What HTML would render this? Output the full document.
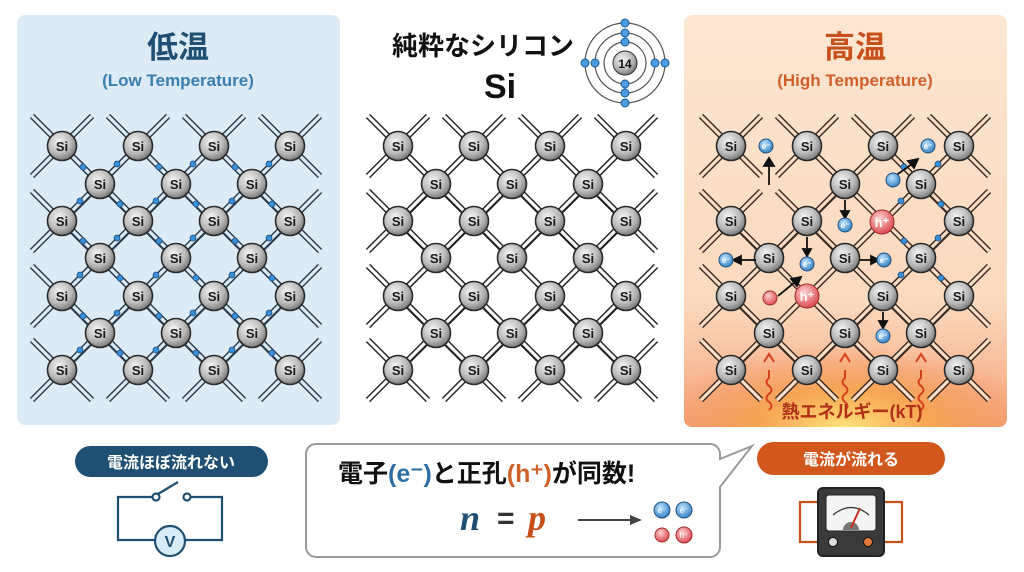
<!DOCTYPE html>
<html><head><meta charset="utf-8"><style>
html,body{margin:0;padding:0;background:#fff;}
svg{display:block;font-family:"Liberation Sans","Noto Sans CJK JP",sans-serif;}
</style></head><body>
<svg width="1024" height="572" viewBox="0 0 1024 572" xmlns="http://www.w3.org/2000/svg">
<defs>
<radialGradient id="ag" cx="40%" cy="35%" r="70%"><stop offset="0" stop-color="#f4f4f4"/><stop offset="0.6" stop-color="#b8b8b8"/><stop offset="1" stop-color="#6e6e6e"/></radialGradient>
<linearGradient id="rp" x1="0" y1="0" x2="0" y2="1"><stop offset="0" stop-color="#fde6d2"/><stop offset="0.7" stop-color="#fbd9bd"/><stop offset="1" stop-color="#f5a27a"/></linearGradient>
<radialGradient id="heat" cx="50%" cy="100%" r="60%"><stop offset="0" stop-color="#ffe27a"/><stop offset="0.45" stop-color="#f7a44e" stop-opacity="0.9"/><stop offset="1" stop-color="#f28a50" stop-opacity="0"/></radialGradient>
<radialGradient id="eg" cx="40%" cy="35%" r="70%"><stop offset="0" stop-color="#bfe3ff"/><stop offset="1" stop-color="#2f7fc0"/></radialGradient>
<radialGradient id="hg" cx="40%" cy="35%" r="70%"><stop offset="0" stop-color="#ffd0d0"/><stop offset="1" stop-color="#d9444a"/></radialGradient>
<g id="bL">
 <g stroke="#2b3a4c" stroke-width="6"><line x1="-30" y1="-30" x2="30" y2="30"/><line x1="-30" y1="30" x2="30" y2="-30"/></g>
 <g stroke="#dcebf6" stroke-width="3.2"><line x1="-30" y1="-30" x2="30" y2="30"/><line x1="-30" y1="30" x2="30" y2="-30"/></g>
</g>
<g id="bM">
 <g stroke="#222" stroke-width="6"><line x1="-30" y1="-30" x2="30" y2="30"/><line x1="-30" y1="30" x2="30" y2="-30"/></g>
 <g stroke="#fff" stroke-width="3.2"><line x1="-30" y1="-30" x2="30" y2="30"/><line x1="-30" y1="30" x2="30" y2="-30"/></g>
</g>
<g id="bR">
 <g stroke="#3a2a22" stroke-width="6"><line x1="-30" y1="-30" x2="30" y2="30"/><line x1="-30" y1="30" x2="30" y2="-30"/></g>
 <g stroke="#fbdcc4" stroke-width="3.2"><line x1="-30" y1="-30" x2="30" y2="30"/><line x1="-30" y1="30" x2="30" y2="-30"/></g>
</g>
<circle id="at" r="14.5" fill="url(#ag)" stroke="#2a2a2a" stroke-width="1.6"/>
<g id="e4" fill="#3a8fd6" stroke="#1d4f80" stroke-width="0.8">
 <circle cx="-17" cy="-17" r="3"/><circle cx="17" cy="-20" r="3"/><circle cx="-20" cy="17" r="3"/><circle cx="20" cy="20" r="3"/>
</g>
</defs>

<rect x="17" y="15" width="323" height="410" rx="8" fill="#dcebf6"/>
<rect x="684" y="15" width="323" height="412" rx="8" fill="url(#rp)"/>
<rect x="684" y="290" width="323" height="137" rx="8" fill="url(#heat)"/>

<text x="178" y="58" text-anchor="middle" font-size="31" font-weight="bold" fill="#1f5073">低温</text>
<text x="178" y="86" text-anchor="middle" font-size="17" font-weight="bold" fill="#3a7fb0">(Low Temperature)</text>
<text x="855" y="58" text-anchor="middle" font-size="31" font-weight="bold" fill="#c8501a">高温</text>
<text x="855" y="86" text-anchor="middle" font-size="17" font-weight="bold" fill="#d0602a">(High Temperature)</text>
<text x="483" y="55" text-anchor="middle" font-size="26" font-weight="bold" fill="#111">純粋なシリコン</text>
<text x="500" y="98" text-anchor="middle" font-size="34" font-weight="bold" fill="#111">Si</text>
<g fill="none" stroke="#555" stroke-width="1.2"><circle cx="625" cy="63" r="21"/><circle cx="625" cy="63" r="30"/><circle cx="625" cy="63" r="40"/></g>
<circle cx="625" cy="63" r="12" fill="url(#ag)" stroke="#333"/>
<text x="625" y="68" text-anchor="middle" font-size="12" font-weight="bold" fill="#111">14</text>
<g fill="#4d9be0" stroke="#1d5a90" stroke-width="1"><circle cx="625" cy="23" r="4"/><circle cx="625" cy="33" r="4"/><circle cx="625" cy="42" r="4"/><circle cx="625" cy="84" r="4"/><circle cx="625" cy="93" r="4"/><circle cx="625" cy="103" r="4"/><circle cx="585" cy="63" r="4"/><circle cx="595" cy="63" r="4"/><circle cx="655" cy="63" r="4"/><circle cx="665" cy="63" r="4"/></g>

<g>
<use href="#bL" x="62" y="146"/><use href="#bL" x="138" y="146"/><use href="#bL" x="214" y="146"/><use href="#bL" x="290" y="146"/>
<use href="#bL" x="100" y="184"/><use href="#bL" x="176" y="184"/><use href="#bL" x="252" y="184"/>
<use href="#bL" x="62" y="221"/><use href="#bL" x="138" y="221"/><use href="#bL" x="214" y="221"/><use href="#bL" x="290" y="221"/>
<use href="#bL" x="100" y="258"/><use href="#bL" x="176" y="258"/><use href="#bL" x="252" y="258"/>
<use href="#bL" x="62" y="296"/><use href="#bL" x="138" y="296"/><use href="#bL" x="214" y="296"/><use href="#bL" x="290" y="296"/>
<use href="#bL" x="100" y="333"/><use href="#bL" x="176" y="333"/><use href="#bL" x="252" y="333"/>
<use href="#bL" x="62" y="370"/><use href="#bL" x="138" y="370"/><use href="#bL" x="214" y="370"/><use href="#bL" x="290" y="370"/>
<use href="#e4" x="100" y="184"/><use href="#e4" x="176" y="184"/><use href="#e4" x="252" y="184"/>
<use href="#e4" x="100" y="258"/><use href="#e4" x="176" y="258"/><use href="#e4" x="252" y="258"/>
<use href="#e4" x="100" y="333"/><use href="#e4" x="176" y="333"/><use href="#e4" x="252" y="333"/>
</g>
<g>
<use href="#bM" x="398" y="146"/><use href="#bM" x="474" y="146"/><use href="#bM" x="550" y="146"/><use href="#bM" x="626" y="146"/>
<use href="#bM" x="436" y="184"/><use href="#bM" x="512" y="184"/><use href="#bM" x="588" y="184"/>
<use href="#bM" x="398" y="221"/><use href="#bM" x="474" y="221"/><use href="#bM" x="550" y="221"/><use href="#bM" x="626" y="221"/>
<use href="#bM" x="436" y="258"/><use href="#bM" x="512" y="258"/><use href="#bM" x="588" y="258"/>
<use href="#bM" x="398" y="296"/><use href="#bM" x="474" y="296"/><use href="#bM" x="550" y="296"/><use href="#bM" x="626" y="296"/>
<use href="#bM" x="436" y="333"/><use href="#bM" x="512" y="333"/><use href="#bM" x="588" y="333"/>
<use href="#bM" x="398" y="370"/><use href="#bM" x="474" y="370"/><use href="#bM" x="550" y="370"/><use href="#bM" x="626" y="370"/>
</g>
<g>
<use href="#bR" x="731" y="146"/><use href="#bR" x="807" y="146"/><use href="#bR" x="883" y="146"/><use href="#bR" x="959" y="146"/>
<use href="#bR" x="845" y="184"/><use href="#bR" x="921" y="184"/>
<use href="#bR" x="731" y="221"/><use href="#bR" x="807" y="221"/><use href="#bR" x="959" y="221"/>
<use href="#bR" x="769" y="258"/><use href="#bR" x="845" y="258"/><use href="#bR" x="921" y="258"/>
<use href="#bR" x="731" y="296"/><use href="#bR" x="883" y="296"/><use href="#bR" x="959" y="296"/>
<use href="#bR" x="769" y="333"/><use href="#bR" x="845" y="333"/><use href="#bR" x="921" y="333"/>
<use href="#bR" x="731" y="370"/><use href="#bR" x="807" y="370"/><use href="#bR" x="883" y="370"/><use href="#bR" x="959" y="370"/>
<use href="#e4" x="921" y="258"/><use href="#e4" x="921" y="184"/>
</g>

<g>
<use href="#at" x="62" y="146"/><use href="#at" x="138" y="146"/><use href="#at" x="214" y="146"/><use href="#at" x="290" y="146"/>
<use href="#at" x="100" y="184"/><use href="#at" x="176" y="184"/><use href="#at" x="252" y="184"/>
<use href="#at" x="62" y="221"/><use href="#at" x="138" y="221"/><use href="#at" x="214" y="221"/><use href="#at" x="290" y="221"/>
<use href="#at" x="100" y="258"/><use href="#at" x="176" y="258"/><use href="#at" x="252" y="258"/>
<use href="#at" x="62" y="296"/><use href="#at" x="138" y="296"/><use href="#at" x="214" y="296"/><use href="#at" x="290" y="296"/>
<use href="#at" x="100" y="333"/><use href="#at" x="176" y="333"/><use href="#at" x="252" y="333"/>
<use href="#at" x="62" y="370"/><use href="#at" x="138" y="370"/><use href="#at" x="214" y="370"/><use href="#at" x="290" y="370"/>

<use href="#at" x="398" y="146"/><use href="#at" x="474" y="146"/><use href="#at" x="550" y="146"/><use href="#at" x="626" y="146"/>
<use href="#at" x="436" y="184"/><use href="#at" x="512" y="184"/><use href="#at" x="588" y="184"/>
<use href="#at" x="398" y="221"/><use href="#at" x="474" y="221"/><use href="#at" x="550" y="221"/><use href="#at" x="626" y="221"/>
<use href="#at" x="436" y="258"/><use href="#at" x="512" y="258"/><use href="#at" x="588" y="258"/>
<use href="#at" x="398" y="296"/><use href="#at" x="474" y="296"/><use href="#at" x="550" y="296"/><use href="#at" x="626" y="296"/>
<use href="#at" x="436" y="333"/><use href="#at" x="512" y="333"/><use href="#at" x="588" y="333"/>
<use href="#at" x="398" y="370"/><use href="#at" x="474" y="370"/><use href="#at" x="550" y="370"/><use href="#at" x="626" y="370"/>

<use href="#at" x="731" y="146"/><use href="#at" x="807" y="146"/><use href="#at" x="883" y="146"/><use href="#at" x="959" y="146"/>
<use href="#at" x="845" y="184"/><use href="#at" x="921" y="184"/>
<use href="#at" x="731" y="221"/><use href="#at" x="807" y="221"/><use href="#at" x="959" y="221"/>
<use href="#at" x="769" y="258"/><use href="#at" x="845" y="258"/><use href="#at" x="921" y="258"/>
<use href="#at" x="731" y="296"/><use href="#at" x="883" y="296"/><use href="#at" x="959" y="296"/>
<use href="#at" x="769" y="333"/><use href="#at" x="845" y="333"/><use href="#at" x="921" y="333"/>
<use href="#at" x="731" y="370"/><use href="#at" x="807" y="370"/><use href="#at" x="883" y="370"/><use href="#at" x="959" y="370"/>
</g>
<g font-size="13" font-weight="bold" fill="#1a1a1a" text-anchor="middle">
<text x="62" y="151">Si</text><text x="138" y="151">Si</text><text x="214" y="151">Si</text><text x="290" y="151">Si</text>
<text x="100" y="189">Si</text><text x="176" y="189">Si</text><text x="252" y="189">Si</text>
<text x="62" y="226">Si</text><text x="138" y="226">Si</text><text x="214" y="226">Si</text><text x="290" y="226">Si</text>
<text x="100" y="263">Si</text><text x="176" y="263">Si</text><text x="252" y="263">Si</text>
<text x="62" y="301">Si</text><text x="138" y="301">Si</text><text x="214" y="301">Si</text><text x="290" y="301">Si</text>
<text x="100" y="338">Si</text><text x="176" y="338">Si</text><text x="252" y="338">Si</text>
<text x="62" y="375">Si</text><text x="138" y="375">Si</text><text x="214" y="375">Si</text><text x="290" y="375">Si</text>

<text x="398" y="151">Si</text><text x="474" y="151">Si</text><text x="550" y="151">Si</text><text x="626" y="151">Si</text>
<text x="436" y="189">Si</text><text x="512" y="189">Si</text><text x="588" y="189">Si</text>
<text x="398" y="226">Si</text><text x="474" y="226">Si</text><text x="550" y="226">Si</text><text x="626" y="226">Si</text>
<text x="436" y="263">Si</text><text x="512" y="263">Si</text><text x="588" y="263">Si</text>
<text x="398" y="301">Si</text><text x="474" y="301">Si</text><text x="550" y="301">Si</text><text x="626" y="301">Si</text>
<text x="436" y="338">Si</text><text x="512" y="338">Si</text><text x="588" y="338">Si</text>
<text x="398" y="375">Si</text><text x="474" y="375">Si</text><text x="550" y="375">Si</text><text x="626" y="375">Si</text>

<text x="731" y="151">Si</text><text x="807" y="151">Si</text><text x="883" y="151">Si</text><text x="959" y="151">Si</text>
<text x="845" y="189">Si</text><text x="921" y="189">Si</text>
<text x="731" y="226">Si</text><text x="807" y="226">Si</text><text x="959" y="226">Si</text>
<text x="769" y="263">Si</text><text x="845" y="263">Si</text><text x="921" y="263">Si</text>
<text x="731" y="301">Si</text><text x="883" y="301">Si</text><text x="959" y="301">Si</text>
<text x="769" y="338">Si</text><text x="845" y="338">Si</text><text x="921" y="338">Si</text>
<text x="731" y="375">Si</text><text x="807" y="375">Si</text><text x="883" y="375">Si</text><text x="959" y="375">Si</text>
</g>

<g stroke="#111" stroke-width="1.8" fill="#111">
<line x1="769" y1="185" x2="769" y2="165"/><path d="M764,166 L769,158 L774,166Z"/>
<line x1="845" y1="200" x2="845" y2="212"/><path d="M841,211 L845,218 L849,211Z"/>
<line x1="807" y1="237" x2="807" y2="250"/><path d="M803,249 L807,256 L811,249Z"/>
<line x1="756" y1="260" x2="740" y2="260"/><path d="M741,256 L733,260 L741,264Z"/>
<line x1="860" y1="260" x2="872" y2="260"/><path d="M871,256 L879,260 L871,264Z"/>
<line x1="778" y1="296" x2="795" y2="282"/><path d="M791,279 L801,277 L797,286Z"/>
<line x1="883" y1="312" x2="883" y2="322"/><path d="M879,321 L883,328 L887,321Z"/>
<line x1="895" y1="176" x2="912" y2="164"/><path d="M908,161 L918,159 L914,168Z"/>
</g>
<g fill="url(#eg)" stroke="#1d4f80" stroke-width="1">
<circle cx="766" cy="146" r="7"/><circle cx="928" cy="146" r="7"/><circle cx="845" cy="225" r="7"/><circle cx="726" cy="260" r="7"/><circle cx="807" cy="264" r="7"/><circle cx="884" cy="260" r="7"/><circle cx="883" cy="336" r="7"/><circle cx="893" cy="180" r="7"/>
</g>
<g font-size="8" fill="#fff" text-anchor="middle" font-weight="bold">
<text x="766" y="149">e⁻</text><text x="928" y="149">e⁻</text><text x="845" y="228">e⁻</text><text x="726" y="263">e⁻</text><text x="807" y="267">e⁻</text><text x="884" y="263">e⁻</text><text x="883" y="339">e⁻</text>
</g>
<g fill="url(#hg)" stroke="#a02a2a" stroke-width="1"><circle cx="882" cy="222" r="12"/><circle cx="807" cy="296" r="12"/><circle cx="770" cy="298" r="7"/></g>
<g font-size="13" fill="#fff" text-anchor="middle" font-weight="bold"><text x="882" y="227">h⁺</text><text x="807" y="301">h⁺</text></g>
<g fill="none" stroke="#d8401c" stroke-width="2">
<path d="M769,410 q5,-4 0,-8 q-5,-4 0,-8 q5,-4 0,-8 q-5,-4 0,-8 l0,-8"/><path d="M764,362 L769,354 L774,362" />
<path d="M845,410 q5,-4 0,-8 q-5,-4 0,-8 q5,-4 0,-8 q-5,-4 0,-8 l0,-8"/><path d="M840,362 L845,354 L850,362"/>
<path d="M921,410 q5,-4 0,-8 q-5,-4 0,-8 q5,-4 0,-8 q-5,-4 0,-8 l0,-8"/><path d="M916,362 L921,354 L926,362"/>
</g>
<text x="852" y="418" text-anchor="middle" font-size="18" font-weight="bold" fill="#b0301a">熱エネルギー(kT)</text>

<rect x="75" y="446" width="193" height="31" rx="15.5" fill="#1f5073"/>
<text x="171" y="468" text-anchor="middle" font-size="16" font-weight="bold" fill="#fff">電流ほぼ流れない</text>
<g fill="none" stroke="#1f5073" stroke-width="2.2">
<path d="M155,540 H118 V497 H153"/><path d="M185,540 H222 V497 H190"/>
<circle cx="156" cy="497" r="3.5"/><circle cx="187" cy="497" r="3.5"/><line x1="158" y1="494" x2="178" y2="482"/>
</g>
<circle cx="170" cy="541" r="15" fill="#d8ecf8" stroke="#1f5073" stroke-width="2.2"/>
<text x="170" y="547" text-anchor="middle" font-size="16" font-weight="bold" fill="#1f5073">V</text>

<path d="M316,444 H710 a10,10 0 0 1 10,10 V459 L752,446 L720,487 V547 a10,10 0 0 1 -10,10 H316 a10,10 0 0 1 -10,-10 V454 a10,10 0 0 1 10,-10Z" fill="#fff" stroke="#9a9a9a" stroke-width="2"/>
<text x="338" y="482" font-size="25" font-weight="bold" fill="#111">電子<tspan fill="#2d6fa3">(e⁻)</tspan>と正孔<tspan fill="#d0602a">(h⁺)</tspan>が同数!</text>
<text x="460" y="530" font-family="Liberation Serif,serif" font-size="36" font-style="italic" font-weight="bold" fill="#1f5073">n</text>
<text x="497" y="528" font-size="30" font-weight="bold" fill="#333">=</text>
<text x="528" y="530" font-family="Liberation Serif,serif" font-size="36" font-style="italic" font-weight="bold" fill="#c8501a">p</text>
<line x1="578" y1="520" x2="635" y2="520" stroke="#444" stroke-width="2"/><path d="M630,515 L642,520 L630,525Z" fill="#444"/>
<g fill="url(#eg)" stroke="#1d4f80"><circle cx="662" cy="510" r="8"/><circle cx="684" cy="510" r="8"/></g>
<g fill="url(#hg)" stroke="#a02a2a"><circle cx="662" cy="535" r="7"/><circle cx="684" cy="535" r="8"/></g>
<g font-size="8" fill="#fff" text-anchor="middle"><text x="662" y="513">e⁻</text><text x="684" y="513">e⁻</text><text x="684" y="538">h⁺</text></g>

<rect x="757" y="442" width="188" height="33" rx="16.5" fill="#d2571d"/>
<text x="851" y="465" text-anchor="middle" font-size="16" font-weight="bold" fill="#fff">電流が流れる</text>
<g fill="none" stroke="#c8501a" stroke-width="2.2"><path d="M818,542 H800 V502 H820"/><path d="M884,542 H902 V502 H882"/></g>
<rect x="818" y="488" width="66" height="68" rx="5" fill="#3a3a3a" stroke="#222" stroke-width="2"/>
<rect x="826" y="495" width="50" height="36" rx="3" fill="#f4f4f4" stroke="#222"/>
<path d="M833,515 Q851,500 869,515" fill="none" stroke="#333" stroke-width="1.2"/>
<path d="M843,530 a8,8 0 0 1 16,0Z" fill="#777"/>
<line x1="851" y1="528" x2="860" y2="508" stroke="#c8301a" stroke-width="2"/>
<circle cx="833" cy="542" r="4.5" fill="#ddd" stroke="#111"/><circle cx="868" cy="542" r="4.5" fill="#e07a3a" stroke="#111"/>
</svg>
</body></html>
